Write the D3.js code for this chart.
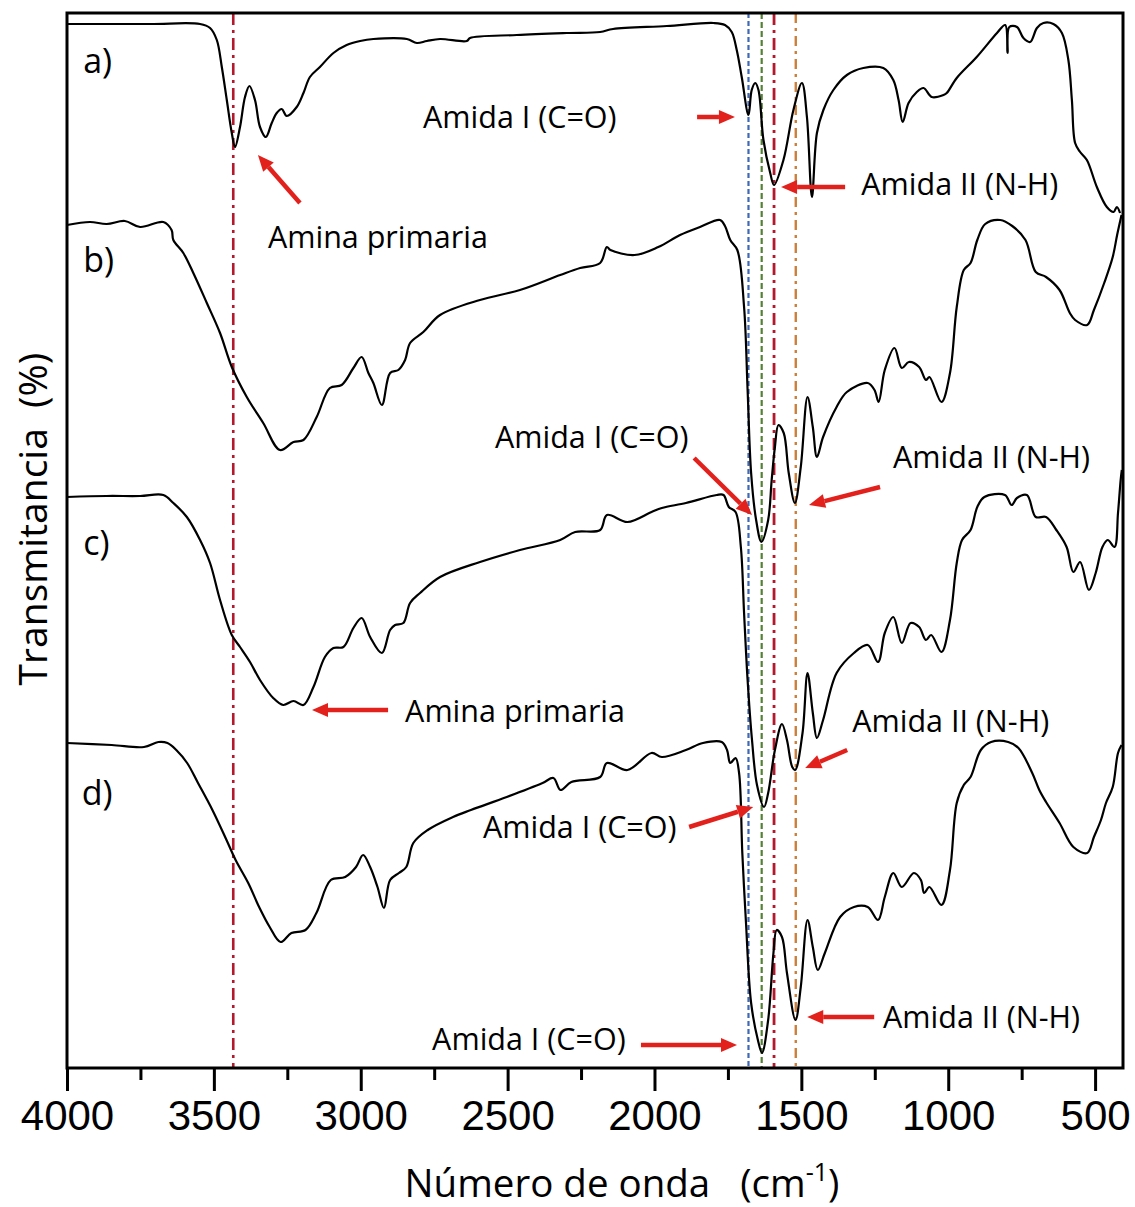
<!DOCTYPE html>
<html>
<head>
<meta charset="utf-8">
<script src="https://cdn.jsdelivr.net/npm/d3@7"></script>
<style>
  html, body { margin: 0; padding: 0; background: #ffffff; }
  svg { display: block; }
</style>
</head>
<body>
<svg id="chart" width="1135" height="1207"></svg>
<script>
// ---------------- DATA (wavenumber cm-1, transmittance a.u. with vertical offsets) ----------------
const spectrumA = [
  [4000,104.4],[3717,104.4],[3547,104.4],[3513,104.0],[3490,102.8],[3473,100.1],[3456,96.8],[3439,93.5],
  [3428,92.1],[3411,94.1],[3394,97.1],[3379,98.2],[3360,96.8],[3343,94.1],[3323,93.1],[3303,94.5],
  [3286,95.5],[3269,95.9],[3252,95.2],[3218,96.1],[3195,97.5],[3173,99.1],[3139,100.1],[3093,101.5],
  [3048,102.3],[3002,102.7],[2957,102.9],[2843,102.9],[2809,102.5],[2775,102.7],[2730,102.9],[2639,102.7],
  [2628,103.0],[2469,103.3],[2299,103.5],[2185,103.6],[2141,103.9],[1958,104.2],[1799,104.5],[1760,104.3],
  [1737,103.6],[1720,101.8],[1703,99.1],[1680,95.3],[1669,97.8],[1657,98.5],[1646,97.8],[1629,92.8],
  [1606,89.5],[1593,88.3],[1561,90.8],[1527,95.8],[1498,98.5],[1481,95.1],[1464,87.1],[1447,93.5],
  [1425,95.8],[1391,97.8],[1345,99.3],[1289,100.0],[1221,100.0],[1187,98.8],[1169,96.8],[1155,94.6],
  [1135,96.5],[1107,97.6],[1084,98.0],[1056,97.1],[1016,97.3],[1005,97.5],[971,99.0],[903,101.1],
  [834,103.5],[806,104.3],[798,101.5],[792,104.1],[766,104.1],[744,103.0],[721,102.6],[698,104.0],
  [676,104.5],[642,104.4],[613,103.5],[591,100.8],[579,96.8],[568,92.5],[551,91.6],[528,90.8],
  [494,88.1],[460,86.1],[437,85.6],[426,86.1],[415,85.5]
];
const spectrumB = [
  [4000,84.3],[3922,84.6],[3865,84.4],[3803,84.7],[3751,84.1],[3672,84.6],[3644,83.8],[3638,82.8],
  [3604,81.5],[3570,79.5],[3524,76.5],[3479,73.5],[3439,70.1],[3388,67.1],[3332,64.5],[3275,61.8],
  [3229,62.6],[3195,62.8],[3150,65.1],[3105,68.0],[3065,68.3],[3025,70.0],[2997,71.1],[2974,69.5],
  [2957,68.5],[2928,66.3],[2900,69.5],[2872,69.8],[2849,70.8],[2832,72.5],[2787,73.6],[2730,75.3],
  [2594,76.8],[2458,77.8],[2321,79.3],[2253,80.0],[2185,80.5],[2162,82.1],[2150,81.8],[2068,81.3],
  [1987,82.1],[1913,83.3],[1845,84.1],[1777,84.8],[1760,84.2],[1742,82.8],[1718,81.8],[1695,76.1],
  [1683,67.8],[1671,59.5],[1654,54.8],[1636,52.6],[1613,54.8],[1601,58.8],[1590,62.1],[1578,64.3],
  [1560,63.5],[1543,59.5],[1522,56.5],[1502,60.1],[1479,67.1],[1461,64.1],[1447,61.1],[1426,63.1],
  [1380,66.1],[1345,67.6],[1274,68.5],[1251,67.8],[1237,66.6],[1216,69.8],[1183,72.0],[1158,70.0],
  [1134,70.6],[1099,70.1],[1076,68.8],[1064,69.1],[1023,66.6],[994,69.5],[971,76.1],[947,79.8],
  [924,80.5],[901,82.8],[874,84.4],[823,84.8],[782,84.2],[737,82.8],[702,79.6],[667,79.1],
  [621,77.8],[586,75.5],[568,74.8],[527,74.3],[504,75.8],[469,78.5],[440,81.1],[425,83.3],[410,85.3]
];
const spectrumC = [
  [4000,57.1],[3865,57.2],[3751,57.2],[3672,57.3],[3638,56.5],[3592,55.1],[3547,52.8],[3513,50.5],
  [3479,46.8],[3439,43.3],[3411,42.1],[3377,40.6],[3343,38.8],[3298,37.0],[3264,36.3],[3229,36.7],
  [3195,36.3],[3161,38.1],[3122,41.1],[3093,42.0],[3059,42.1],[3025,44.0],[2997,45.0],[2968,43.1],
  [2928,41.5],[2900,43.8],[2883,44.3],[2855,44.5],[2832,46.5],[2798,47.5],[2730,49.1],[2594,50.6],
  [2458,51.8],[2321,52.8],[2270,53.6],[2185,53.8],[2162,55.3],[2092,54.6],[2010,55.6],[1975,56.0],
  [1893,56.5],[1788,57.3],[1765,57.3],[1747,56.1],[1724,55.6],[1706,52.1],[1695,45.5],[1683,38.8],
  [1668,32.8],[1651,28.3],[1627,26.1],[1613,27.5],[1590,31.8],[1566,34.4],[1549,32.8],[1531,30.1],
  [1521,29.8],[1496,33.5],[1479,39.5],[1461,35.5],[1447,33.0],[1426,34.8],[1380,39.5],[1321,41.5],
  [1274,42.3],[1239,40.6],[1216,43.5],[1187,45.1],[1158,42.5],[1128,44.5],[1099,44.1],[1076,42.8],
  [1058,43.3],[1023,41.6],[994,44.8],[971,50.5],[953,52.8],[924,53.8],[901,56.1],[877,57.1],
  [807,57.3],[784,56.3],[766,57.0],[732,57.3],[702,55.1],[667,55.1],[632,53.8],[597,52.1],
  [574,49.6],[551,50.6],[521,47.8],[498,49.5],[475,52.1],[457,52.8],[434,52.1],[422,55.5],
  [413,58.8],[409,59.8]
];
const spectrumD = [
  [4000,32.5],[3848,32.3],[3738,32.1],[3689,32.6],[3658,32.5],[3628,31.8],[3591,30.5],[3554,28.5],
  [3505,25.8],[3457,22.8],[3426,20.8],[3383,18.5],[3346,16.1],[3310,14.1],[3273,12.6],[3236,13.5],
  [3188,13.8],[3151,15.5],[3102,18.8],[3053,19.1],[3016,20.1],[2992,21.3],[2968,20.1],[2943,18.1],
  [2921,16.0],[2900,18.8],[2870,19.5],[2845,20.1],[2821,22.5],[2772,23.8],[2686,25.1],[2625,25.8],
  [2503,27.1],[2381,28.5],[2344,29.0],[2320,27.8],[2283,28.6],[2185,29.1],[2162,30.5],[2092,29.8],
  [2010,31.5],[1975,31.1],[1893,31.8],[1835,32.5],[1771,32.6],[1753,31.8],[1742,30.5],[1724,31.0],
  [1712,29.5],[1701,21.5],[1689,14.8],[1671,6.5],[1648,2.8],[1634,1.5],[1613,4.8],[1595,11.5],
  [1584,13.8],[1566,13.1],[1549,9.5],[1520,4.8],[1502,8.1],[1479,14.8],[1461,12.1],[1444,9.8],
  [1420,11.5],[1368,15.1],[1321,16.1],[1274,16.1],[1239,14.8],[1216,17.1],[1187,19.5],[1158,18.1],
  [1117,19.5],[1093,18.8],[1082,17.5],[1064,18.1],[1023,16.3],[994,19.8],[971,26.5],[947,28.3],
  [924,29.1],[889,31.8],[854,32.6],[796,32.6],[761,32.0],[714,29.5],[690,27.8],[667,26.6],
  [621,24.5],[574,22.1],[527,21.5],[504,23.1],[480,24.8],[463,26.5],[440,28.1],[422,31.5],[410,32.3]
];

// Trace labels: [text, wavenumber (left), value (baseline)]
const traceLabels = [["a)",3945,99.5],["b)",3945,79.6],["c)",3945,51.3],["d)",3950,26.3]];

// Reference lines: wavenumber, colour, dash pattern, width
const refLines = [
  {wn:3434, color:"#B3192C", dash:"12,5,3,5", w:2.6},
  {wn:1680, color:"#3F68B5", dash:"5,3",      w:2.2},
  {wn:1635, color:"#548235", dash:"6,3",      w:2.2},
  {wn:1593, color:"#B3192C", dash:"12,5,3,5", w:2.8},
  {wn:1519, color:"#CC7F3A", dash:"10,5,3,5", w:2.4}
];

// Annotations: text, text anchor (wn, value baseline), arrow from (wn,val) to tip (wn,val)
const annotations = [
  {text:"Amina primaria", tx:3316, ty:82.0, from:[3207,86.5], to:[3350,91.3]},
  {text:"Amida I (C=O)",  tx:2788, ty:94.0, from:[1855,95.1], to:[1726,95.1]},
  {text:"Amida II (N-H)", tx:1296, ty:87.3, from:[1351,88.1], to:[1569,88.1]},
  {text:"Amida I (C=O)",  tx:2543, ty:62.0, from:[1865,61.0], to:[1668,55.3]},
  {text:"Amida II (N-H)", tx:1188, ty:60.0, from:[1232,58.1], to:[1474,56.3]},
  {text:"Amina primaria", tx:2849, ty:34.6, from:[2907,35.8], to:[3166,35.8]},
  {text:"Amida II (N-H)", tx:1327, ty:33.6, from:[1344,31.8], to:[1487,30.0]},
  {text:"Amida I (C=O)",  tx:2584, ty:23.0, from:[1882,24.1], to:[1664,26.1]},
  {text:"Amida I (C=O)",  tx:2757, ty:1.8,  from:[2046,2.3],  to:[1719,2.3]},
  {text:"Amida II (N-H)", tx:1222, ty:4.0,  from:[1252,5.1],  to:[1480,5.1]}
];

const majorTicks = [4000,3500,3000,2500,2000,1500,1000,500];
const minorTicks = [3750,3250,2750,2250,1750,1250,750];

// ---------------- LAYOUT ----------------
const L = 67, R = 1123, T = 13, B = 1068;
const svg = d3.select("#chart");
const x = d3.scaleLinear().domain([4000, 405]).range([L, R]);
const y = d3.scaleLinear().domain([0, 105.5]).range([B, T]);

// reference lines
svg.append("g").selectAll("line").data(refLines).join("line")
  .attr("x1", d => x(d.wn)).attr("x2", d => x(d.wn))
  .attr("y1", T).attr("y2", B)
  .attr("stroke", d => d.color).attr("stroke-width", d => d.w)
  .attr("stroke-dasharray", d => d.dash);

// spectra
const line = d3.line().x(d => x(d[0])).y(d => y(d[1])).curve(d3.curveCatmullRom.alpha(0.5));
svg.append("g").selectAll("path").data([spectrumA, spectrumB, spectrumC, spectrumD]).join("path")
  .attr("d", line).attr("fill", "none").attr("stroke", "#000")
  .attr("stroke-width", 2.2).attr("stroke-linejoin", "round");

// frame
svg.append("rect").attr("x", L).attr("y", T).attr("width", R - L).attr("height", B - T)
  .attr("fill", "none").attr("stroke", "#000").attr("stroke-width", 3);

// axis
const axMajor = svg.append("g").attr("transform", `translate(0,${B})`)
  .call(d3.axisBottom(x).tickValues(majorTicks).tickSize(23).tickPadding(9).tickFormat(d3.format("d")));
axMajor.select(".domain").remove();
axMajor.selectAll(".tick line").attr("stroke", "#000").attr("stroke-width", 3);
axMajor.selectAll(".tick text").attr("font-family", "'Liberation Sans', Arial, sans-serif")
  .attr("font-size", 42).attr("fill", "#000");
const axMinor = svg.append("g").attr("transform", `translate(0,${B})`)
  .call(d3.axisBottom(x).tickValues(minorTicks).tickSize(12).tickFormat(""));
axMinor.select(".domain").remove();
axMinor.selectAll(".tick line").attr("stroke", "#000").attr("stroke-width", 3);

// axis titles
const xt = svg.append("text").attr("x", 622).attr("y", 1197)
  .attr("text-anchor", "middle").attr("font-family", "'Open Sans', sans-serif")
  .attr("font-size", 38.5).attr("fill", "#000");
xt.append("tspan").text("Número de onda\u00A0\u00A0\u00A0(cm");
xt.append("tspan").attr("font-size", 25).attr("dy", -16).text("-1");
xt.append("tspan").attr("dy", 16).text(")");

svg.append("text").attr("transform", "translate(47,519) rotate(-90)")
  .attr("text-anchor", "middle").attr("font-family", "'Open Sans', sans-serif")
  .attr("font-size", 39).attr("fill", "#000").text("Transmitancia\u00A0\u00A0(%)");

// trace labels
svg.append("g").selectAll("text").data(traceLabels).join("text")
  .attr("x", d => x(d[1])).attr("y", d => y(d[2]))
  .attr("font-family", "'Open Sans', sans-serif").attr("font-size", 34).attr("fill", "#000")
  .text(d => d[0]);

// annotations
const ag = svg.append("g");
ag.selectAll("text").data(annotations).join("text")
  .attr("x", d => x(d.tx)).attr("y", d => y(d.ty))
  .attr("font-family", "'Open Sans', sans-serif").attr("font-size", 30.5).attr("fill", "#000")
  .text(d => d.text);
const red = "#E3211C";
annotations.forEach(a => {
  const x1 = x(a.from[0]), y1 = y(a.from[1]), x2 = x(a.to[0]), y2 = y(a.to[1]);
  const ang = Math.atan2(y2 - y1, x2 - x1);
  const hl = 16, hw = 7;
  const bx = x2 - hl * Math.cos(ang), by = y2 - hl * Math.sin(ang);
  ag.append("line").attr("x1", x1).attr("y1", y1).attr("x2", bx).attr("y2", by)
    .attr("stroke", red).attr("stroke-width", 4.5);
  const px = -Math.sin(ang), py = Math.cos(ang);
  ag.append("path")
    .attr("d", `M${x2},${y2}L${bx + hw * px},${by + hw * py}L${bx - hw * px},${by - hw * py}Z`)
    .attr("fill", red);
});
</script>
</body>
</html>
